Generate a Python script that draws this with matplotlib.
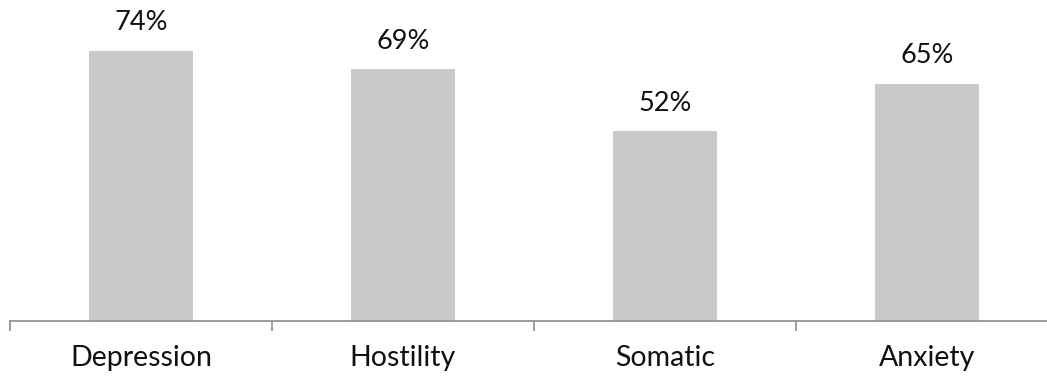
import matplotlib.pyplot as plt

categories = ["Depression", "Hostility", "Somatic", "Anxiety"]
values = [74, 69, 52, 65]

plt.rcParams['font.family'] = ['Lato', 'DejaVu Sans']

fig = plt.figure(figsize=(10.47, 3.77), dpi=100)
# the last category slot runs slightly past the right edge
ax = fig.add_axes([10 / 1047, 56 / 377, 1048 / 1047, 1 - 56 / 377])

x = range(len(categories))
bars = ax.bar(x, values, width=0.4, color='#c9c9c9', zorder=2)

for xi, v in zip(x, values):
    ax.text(xi, v + 7.7, f"{v}%", ha='center', va='center', fontsize=19.5,
            color='#111111', clip_on=False)

ax.set_xlim(-0.5, len(categories) - 0.5)
ax.set_ylim(0, 88)

for side in ['top', 'right', 'left']:
    ax.spines[side].set_visible(False)
ax.spines['bottom'].set_color('#8c8c8c')
ax.spines['bottom'].set_linewidth(1.2)

ax.set_yticks([])
ax.set_xticks(list(x))
ax.set_xticklabels(categories, fontsize=20.5, color='#111111')
ax.tick_params(axis='x', which='major', length=0, pad=17)
ax.set_xticks([i - 0.5 for i in range(len(categories) + 1)], minor=True)
ax.tick_params(axis='x', which='minor', length=7, width=1.2, color='#8c8c8c',
               direction='out')

fig.savefig("out.png", dpi=100)
